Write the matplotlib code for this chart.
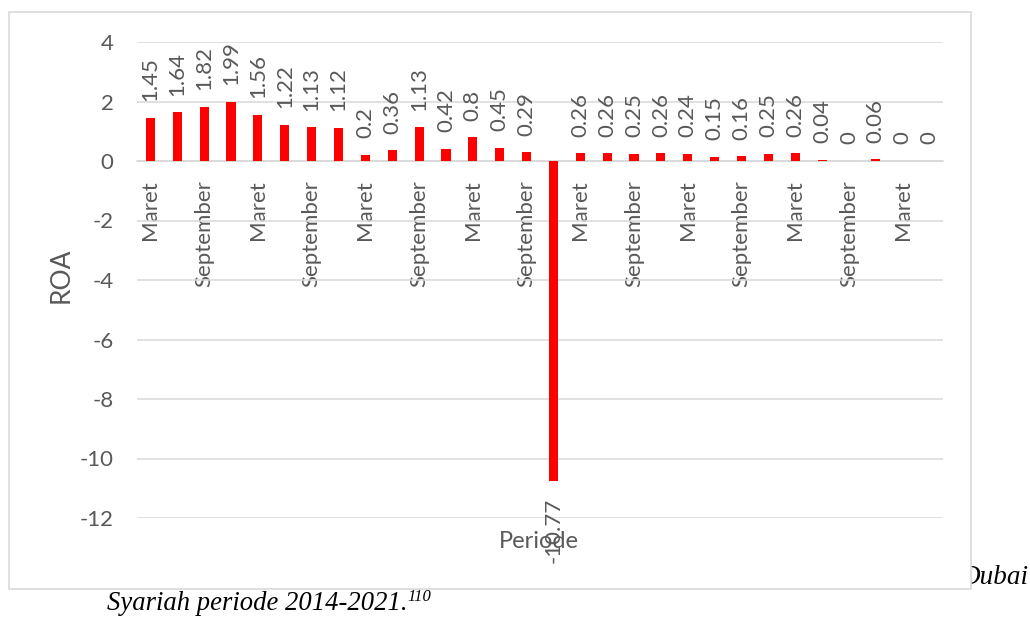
import matplotlib
matplotlib.use("Agg")
import matplotlib.pyplot as plt
from matplotlib.patches import Rectangle

# Quarterly ROA (%), 2014 Q1 onwards
periods = ["Maret", "Juni", "September", "Desember"] * 7 + ["Maret", "Juni"]
roa = [1.45, 1.64, 1.82, 1.99, 1.56, 1.22, 1.13, 1.12,
       0.2, 0.36, 1.13, 0.42, 0.8, 0.45, 0.29, -10.77,
       0.26, 0.26, 0.25, 0.26, 0.24, 0.15, 0.16, 0.25,
       0.26, 0.04, 0, 0.06, 0, 0]
y_ticks = [4, 2, 0, -2, -4, -6, -8, -10, -12]

TEXT = "#595959"
GRID = "#d9d9d9"
FONT = ["Lato", "DejaVu Sans"]

W, H = 1030, 618
fig = plt.figure(figsize=(W / 100, H / 100), dpi=100)

# caption lines of the surrounding document
fig.text(1028 / W, 1 - 577 / H, "Dubai", ha="right", va="center",
         fontsize=19.5, style="italic", family="Liberation Serif", color="black", zorder=0)
fig.text(107 / W, 1 - 604 / H, "Syariah periode 2014-2021.", ha="left", va="center",
         fontsize=19.2, style="italic", family="Liberation Serif", color="black")
fig.text(407 / W, 1 - 597 / H, "110", ha="left", va="center",
         fontsize=12, style="italic", family="Liberation Serif", color="black")

# chart frame
frame = Rectangle((9 / W, 1 - 589 / H), (971 - 9) / W, (589 - 12) / H,
                  transform=fig.transFigure, facecolor="white", edgecolor=GRID,
                  linewidth=1.2, zorder=1)
fig.patches.append(frame)

left, right, top, bottom = 137, 943, 42, 518
ax = fig.add_axes([left / W, 1 - bottom / H, (right - left) / W, (bottom - top) / H])
ax.set_zorder(2)
ax.patch.set_visible(False)

x = list(range(len(roa)))
bars = ax.bar(x, roa, width=0.34, color="#ff0000", zorder=3)

ax.set_xlim(-0.5, len(roa) - 0.5)
ax.set_ylim(-12, 4)
ax.set_yticks(y_ticks)
ax.set_yticklabels([str(v) for v in y_ticks])
ax.grid(axis="y", color=GRID, linewidth=1.1, zorder=0)

for s in ["top", "right", "left"]:
    ax.spines[s].set_visible(False)
ax.spines["bottom"].set_position(("data", 0))
ax.spines["bottom"].set_color(GRID)
ax.spines["bottom"].set_linewidth(1.1)

tick_idx = x[::2]
ax.set_xticks(tick_idx)
ax.set_xticklabels([periods[i] for i in tick_idx], rotation=90, va="top", ha="center")
ax.tick_params(axis="x", length=0, pad=14, labelsize=16, labelcolor=TEXT)
ax.tick_params(axis="y", length=0, pad=17, labelsize=16, labelcolor=TEXT)
for lab in ax.get_xticklabels() + ax.get_yticklabels():
    lab.set_family(FONT)

ax.bar_label(bars, labels=[f"{v:g}" for v in roa], rotation=90, padding=12,
             fontsize=16, color=TEXT, family=FONT)

fig.text(61 / W, 1 - 275 / H, "ROA", rotation=90, ha="center", va="center",
         fontsize=19, color=TEXT, family=FONT, zorder=3)
fig.text(539 / W, 1 - 541 / H, "Periode", ha="center", va="center",
         fontsize=17, color=TEXT, family=FONT, zorder=3)

fig.savefig("out.png", dpi=100)
